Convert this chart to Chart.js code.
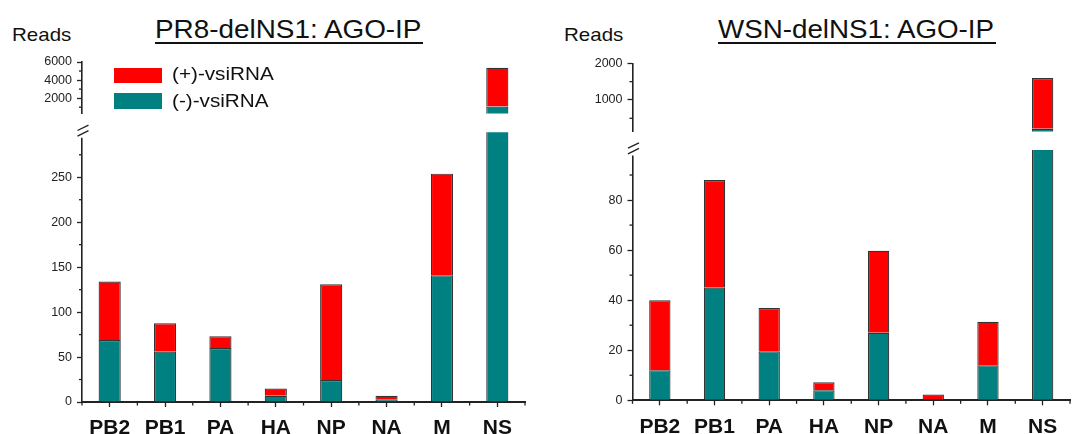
<!DOCTYPE html>
<html>
<head>
<meta charset="utf-8">
<script src="https://cdn.jsdelivr.net/npm/chart.js@4.4.1/dist/chart.umd.min.js"></script>
<style>
  body { margin: 0; width: 1081px; height: 434px; overflow: hidden; background: #fff; position: relative;
         font-family: Arial, "Liberation Sans", sans-serif; color: #111; }
  canvas { position: absolute; }
  .txt { position: absolute; white-space: nowrap; line-height: 1; transform-origin: 0 0; }
  .box { position: absolute; }
</style>
</head>
<body>

<!-- titles / axis names -->
<div class="txt" style="left:12px; top:24.8px; font-size:19px; transform:scaleX(1.08)">Reads</div>
<div class="txt" style="left:564px; top:24.8px; font-size:19px; transform:scaleX(1.08)">Reads</div>
<div class="txt" style="left:155px; top:16.7px; font-size:25px; transform:scaleX(1.115)">PR8-delNS1: AGO-IP</div>
<div class="box" style="left:155px; top:41.7px; width:268px; height:2px; background:#111"></div>
<div class="txt" style="left:718px; top:16.7px; font-size:25px; transform:scaleX(1.11)">WSN-delNS1: AGO-IP</div>
<div class="box" style="left:718px; top:41.7px; width:278px; height:2px; background:#111"></div>

<canvas id="pr8Top" width="540" height="86" style="left:0; top:40px"></canvas>
<canvas id="pr8Bottom" width="540" height="324" style="left:0; top:110px"></canvas>
<canvas id="wsnTop" width="541" height="104" style="left:540px; top:40px"></canvas>
<canvas id="wsnBottom" width="541" height="324" style="left:540px; top:110px"></canvas>

<!-- legend -->
<div id="legend"></div>

<script>
// data
const segments = ['PB2', 'PB1', 'PA', 'HA', 'NP', 'NA', 'M', 'NS'];
const seriesNames = ['(-)-vsiRNA', '(+)-vsiRNA'];
const seriesColors = ['#008080', '#ff0000'];

const pr8Minus = [69, 56, 60, 7, 24.5, 3, 141, 1080];
const pr8Plus  = [65, 31.5, 13, 8, 106.5, 4, 113, 4270];
const wsnMinus = [12, 45, 19.6, 4, 27, 0.5, 14, 215];
const wsnPlus  = [28, 43, 17.3, 3.2, 32.7, 1.8, 17.4, 1385];

// broken axis: lower and upper ranges
const pr8LowRange = [0, 300];
const pr8HighRange = [300, 6000];
const wsnLowRange = [0, 100];
const wsnHighRange = [140, 2000];

// tick labels (major) and minor ticks
const pr8LowTicks = [0, 50, 100, 150, 200, 250];
const pr8LowMinor = [25, 75, 125, 175, 225, 275];
const pr8HighTicks = [2000, 4000, 6000];
const pr8HighMinor = [1000, 3000, 5000];
const wsnLowTicks = [0, 20, 40, 60, 80];
const wsnLowMinor = [10, 30, 50, 70, 90];
const wsnHighTicks = [1000, 2000];
const wsnHighMinor = [500, 1500];

const FONT = 'Arial, "Liberation Sans", sans-serif';
const AXIS = '#222';

function makeChart(id, cfg) {
    // minor ticks, category edge ticks and the axis break mark
    const extras = {
        id: 'extras',
        afterDraw(chart) {
            const ctx = chart.ctx, a = chart.chartArea, x = chart.scales.x, y = chart.scales.y;
            ctx.save();
            ctx.strokeStyle = AXIS;
            ctx.lineWidth = 1.3;
            const seg = (x1, y1, x2, y2) => { ctx.beginPath(); ctx.moveTo(x1, y1); ctx.lineTo(x2, y2); ctx.stroke(); };
            cfg.minor.forEach(v => {
                const py = y.getPixelForValue(v);
                seg(a.left, py, a.left - 3, py);
            });
            if (cfg.showX) {
                for (let i = 0; i <= segments.length; i++) {
                    const px = x.getPixelForValue(i - 0.5);
                    seg(px, a.bottom, px, a.bottom + 3.5);
                }
                // break mark on the value axis
                ctx.fillStyle = '#fff';
                ctx.fillRect(a.left - 3, a.top - 10, 6, 15.5);
                seg(a.left - 4.5, a.top - 1.8, a.left + 6.5, a.top - 7.2);
                seg(a.left - 4.5, a.top + 3.8, a.left + 6.5, a.top - 1.6);
            }
            ctx.restore();
        }
    };

    return new Chart(document.getElementById(id), {
        type: 'bar',
        data: {
            labels: segments,
            datasets: [
                { label: seriesNames[0], data: cfg.minus, backgroundColor: seriesColors[0], borderColor: '#333', borderWidth: 1.2, clip: 0 },
                { label: seriesNames[1], data: cfg.plus, backgroundColor: seriesColors[1], borderColor: '#333', borderWidth: 1.2, clip: 0 }
            ]
        },
        options: {
            responsive: false,
            animation: false,
            layout: { padding: { top: cfg.padTop, right: cfg.padRight, left: 0, bottom: 0 } },
            datasets: { bar: { categoryPercentage: 1, barPercentage: cfg.barPct } },
            plugins: { legend: { display: false }, tooltip: { enabled: false } },
            scales: {
                x: {
                    stacked: true,
                    display: cfg.showX,
                    grid: { offset: false, drawOnChartArea: false, tickLength: 5, tickColor: AXIS, tickWidth: 1.3 },
                    border: { color: AXIS, width: 2 },
                    ticks: { color: '#111', font: { size: 21, weight: 'bold', family: FONT }, padding: 9, maxRotation: 0, autoSkip: false },
                    afterFit: s => { s.height = cfg.xHeight; }
                },
                y: {
                    stacked: true,
                    min: cfg.range[0],
                    max: cfg.range[1],
                    grid: { drawOnChartArea: false, tickLength: 5, tickColor: AXIS, tickWidth: 1.3 },
                    border: { color: AXIS, width: 1.6 },
                    ticks: { color: '#222', font: { size: 12.5, family: FONT }, padding: 5, callback: v => String(v) },
                    afterBuildTicks: s => { s.ticks = cfg.ticks.map(v => ({ value: v })); },
                    afterFit: s => { s.width = cfg.yWidth; }
                }
            }
        },
        plugins: [extras]
    });
}

makeChart('pr8Top', { minus: pr8Minus, plus: pr8Plus, range: pr8HighRange, ticks: pr8HighTicks, minor: pr8HighMinor,
    showX: false, padTop: 22, padRight: 15, yWidth: 82, xHeight: 0, barPct: 0.4 });
makeChart('pr8Bottom', { minus: pr8Minus, plus: pr8Plus, range: pr8LowRange, ticks: pr8LowTicks, minor: pr8LowMinor,
    showX: true, padTop: 22.3, padRight: 15, yWidth: 82, xHeight: 32, barPct: 0.4 });
makeChart('wsnTop', { minus: wsnMinus, plus: wsnPlus, range: wsnHighRange, ticks: wsnHighTicks, minor: wsnHighMinor,
    showX: false, padTop: 23.3, padRight: 11, yWidth: 92.5, xHeight: 0, barPct: 0.39 });
makeChart('wsnBottom', { minus: wsnMinus, plus: wsnPlus, range: wsnLowRange, ticks: wsnLowTicks, minor: wsnLowMinor,
    showX: true, padTop: 40, padRight: 11, yWidth: 92.5, xHeight: 33.7, barPct: 0.39 });

// legend in the left panel, (+) first
const legend = document.getElementById('legend');
[[1, 68, 15, 65.3], [0, 93, 16, 92]].forEach(([k, top, h, textTop]) => {
    legend.insertAdjacentHTML('beforeend',
        `<div class="box" style="left:114px; top:${top}px; width:48px; height:${h}px; background:${seriesColors[k]}"></div>` +
        `<div class="txt" style="left:172px; top:${textTop}px; font-size:18px; transform:scaleX(1.15)">${seriesNames[k]}</div>`);
});
</script>
</body>
</html>
